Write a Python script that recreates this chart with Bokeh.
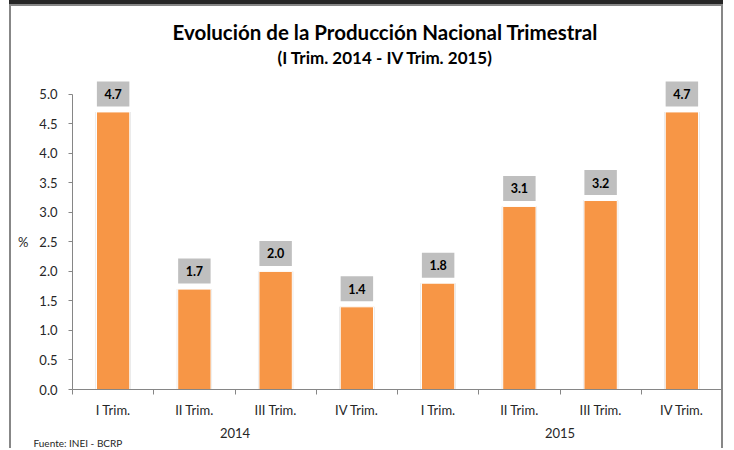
from bokeh.plotting import figure
from bokeh.models import (Range1d, LinearAxis, FixedTicker, ColumnDataSource, LabelSet, Title,
                          NumeralTickFormatter)
from bokeh.core.properties import value
from bokeh.embed import file_html
from bokeh.resources import INLINE

# ---------------- data ----------------
years = ["2014", "2015"]
quarters = ["I Trim.", "II Trim.", "III Trim.", "IV Trim."]
values = [4.7, 1.7, 2.0, 1.4, 1.8, 3.1, 3.2, 4.7]
y_ticks = [0.0, 0.5, 1.0, 1.5, 2.0, 2.5, 3.0, 3.5, 4.0, 4.5, 5.0]
title_text = "Evolución de la Producción Nacional Trimestral"
subtitle_text = "(I Trim. 2014 - IV Trim. 2015)"
y_label = "%"
source_text = "Fuente: INEI - BCRP"

# derived category positions (one slot per quarter, nested in years)
n = len(years) * len(quarters)
xs = [i + 0.5 for i in range(n)]
edges = list(range(n + 1))
cat_names = [q for _ in years for q in quarters]
year_centers = [sum(xs[k * len(quarters):(k + 1) * len(quarters)]) / len(quarters)
                for k in range(len(years))]
y_mid = (y_ticks[0] + y_ticks[-1]) / 2
value_labels = [f"{v:.1f}" for v in values]
src = ColumnDataSource(dict(x=xs, v=values, lbl=value_labels))

FONT = "Lato"
AXIS = "#868686"
TXT = "#262626"
W, H = 714, 444
L, R, T, B = 61, 3, 70, 61

p = figure(width=W, height=H, x_range=Range1d(0, n), y_range=Range1d(0, 5.3),
           x_axis_location=None, output_backend="svg", toolbar_location=None,
           min_border_left=L, min_border_right=R, min_border_top=T, min_border_bottom=B)
p.styles = {"margin-left": "9px", "margin-top": "4px",
            "border-left": "2px solid #878787", "border-right": "2px solid #878787",
            "border-top": "2px solid #878787", "box-shadow": "0 -4px 0 0 #262626"}
p.outline_line_color = None
p.xgrid.visible = False
p.ygrid.visible = False
p.background_fill_color = "white"
p.border_fill_color = "white"

# titles
p.title.text = title_text
p.title.align = "left"
p.title.offset = 100
p.title.text_font = FONT
p.title.text_font_size = "20.5px"
p.title.text_font_style = "bold"
p.title.text_color = "black"
p.title.standoff = -15
p.add_layout(Title(text=subtitle_text, align="left", offset=205, text_font=FONT,
                   text_font_size="17px", text_font_style="bold", text_color="black",
                   standoff=17), "above")

# x axis: boundary ticks (minor) with quarter labels, then year labels
q_axis = LinearAxis(ticker=FixedTicker(ticks=xs, minor_ticks=edges),
                    major_label_overrides={x: s for x, s in zip(xs, cat_names)},
                    axis_line_color=AXIS, major_tick_line_color=None,
                    major_tick_in=0, major_tick_out=0,
                    minor_tick_line_color=AXIS, minor_tick_in=0, minor_tick_out=5,
                    major_label_text_font=FONT, major_label_text_font_size="13px",
                    major_label_text_color=TXT, major_label_standoff=7)
p.add_layout(q_axis, "below")
yr_axis = LinearAxis(ticker=FixedTicker(ticks=year_centers),
                     major_label_overrides={x: s for x, s in zip(year_centers, years)},
                     axis_line_color=None, major_tick_line_color=None,
                     minor_tick_line_color=None, major_tick_in=0, major_tick_out=0,
                     major_label_text_font=FONT, major_label_text_font_size="13px",
                     major_label_text_color=TXT, major_label_standoff=7)
p.add_layout(yr_axis, "below")
p.add_layout(Title(text=source_text, align="left", offset=-39, text_font=FONT,
                   text_font_size="10px", text_font_style="normal", text_color=TXT,
                   standoff=-11), "below")

# y axis
ya = p.yaxis[0]
ya.ticker = FixedTicker(ticks=y_ticks)
ya.bounds = (y_ticks[0], y_ticks[-1])
ya.formatter = NumeralTickFormatter(format="0.0")
ya.axis_line_color = AXIS
ya.major_tick_line_color = AXIS
ya.major_tick_in = 0
ya.major_tick_out = 4
ya.minor_tick_line_color = None
ya.major_label_text_font = FONT
ya.major_label_text_font_size = "13px"
ya.major_label_text_color = TXT
ya.major_label_standoff = 11

# "%" unit label, level with the middle of the value axis
unit_axis = LinearAxis(ticker=FixedTicker(ticks=[y_mid]),
                       major_label_overrides={y_mid: y_label},
                       axis_line_color=None, major_tick_line_color=None,
                       minor_tick_line_color=None, major_tick_in=0, major_tick_out=0,
                       major_label_text_font=FONT, major_label_text_font_size="13px",
                       major_label_text_color=TXT, major_label_standoff=8)
p.add_layout(unit_axis, "left")

# bars (with faint shadow)
p.vbar(x="x", top="v", width=0.435, source=src, fill_color="#dedede", line_color=None)
p.vbar(x="x", top="v", width=0.41, source=src, fill_color="#F79646",
       line_color="white", line_width=1)

# value labels in grey boxes
p.add_layout(LabelSet(x="x", y="v", text="lbl", source=src, y_offset=18,
                      text_align="center", text_baseline="middle",
                      text_font=value(FONT), text_font_size="12.5px", text_font_style="bold",
                      text_color="black",
                      background_fill_color="#BFBFBF",
                      border_line_color="#BFBFBF", border_line_width=15,
                      border_line_join="miter"))

open("out.html", "w").write(file_html(p, INLINE))
